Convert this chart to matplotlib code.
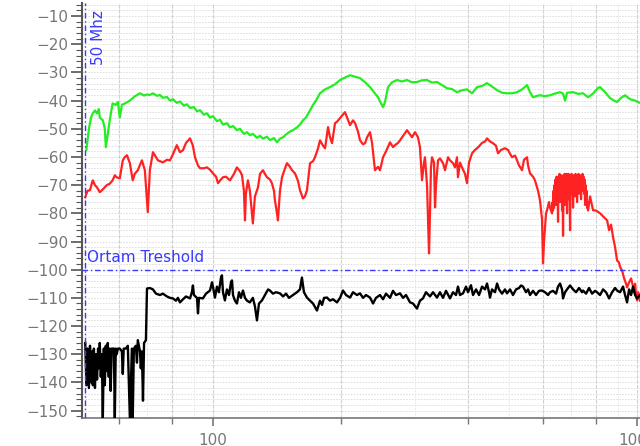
import numpy as np
import matplotlib
matplotlib.use("Agg")
import matplotlib.pyplot as plt
from matplotlib.ticker import FixedLocator, NullFormatter, MultipleLocator

# frequency (MHz) and level (dB)
green_f = [50.3, 51.0, 51.6, 52.1, 52.7, 53.3, 53.8, 54.1, 55.0, 55.6, 55.9, 56.5, 57.1, 58.0, 59.0, 59.7,
           60.3, 61.0, 62.0, 63.7, 65.4, 67.3, 68.8, 69.9, 71.0, 72.2, 73.8, 75.0, 76.2, 77.9, 79.2, 80.5,
           82.2, 83.6, 85.4, 86.8, 88.3, 90.2, 91.7, 93.2, 95.2, 96.8, 98.4, 100, 102.2, 103.9, 105.6, 107.9,
           109.7, 111.5, 113.9, 115.8, 118.3, 120.3, 122.2, 124.2, 127.0, 129.1, 131.2, 134.1, 136.3, 139.3,
           141.6, 143.9, 146.3, 148.7, 151.9, 154.4, 157.8, 160.4, 163.0, 165.7, 169.4, 172.2, 175.0, 178.8,
           183.8, 188.8, 194.0, 199.4, 204.8, 210.5, 216.3, 222.2, 228.4, 234.6, 239.7, 245.0, 249.1, 251.8,
           254.5, 258.7, 264.4, 271.6, 279.1, 286.8, 294.7, 302.7, 311.1, 319.7, 328.5, 337.5, 346.8, 356.4,
           366.1, 376.2, 386.6, 397.2, 408.2, 419.5, 431.0, 442.8, 455.0, 467.6, 480.4, 493.6, 507.2, 521.2,
           535.5, 550.3, 559.2, 568.4, 580.8, 590.4, 606.7, 623.4, 640.6, 658.2, 669.0, 676.3, 683.7, 706.4,
           725.8, 745.8, 766.3, 787.4, 809.1, 817.9, 840.4, 863.6, 882.6, 897.0, 916.8, 936.9, 962.8, 989.3,
           1006, 1022]
green_db = [-57.6, -50, -46, -44.5, -43.5, -44.5, -43, -46, -47, -50, -56.5, -52, -47, -41, -41.5, -40.5,
            -46, -41.5, -41, -40, -38.5, -37.4, -38.2, -37.8, -38, -37.4, -38.3, -38.0, -39, -38.7, -40, -39.5,
            -40.8, -40.3, -41.8, -41.3, -42.6, -42.3, -43.8, -43.4, -45, -44.5, -46, -45.5, -47.3, -46.8, -48.5, -48,
            -49.5, -49, -50.5, -50, -51.8, -51.2, -52.3, -51.8, -53.2, -52.5, -53.5, -52.8, -54.0, -53.3,
            -54.8, -53.5, -53.0, -52.0, -51.0, -50.5, -49.5, -48.5, -47, -46, -43.5, -41.5, -40, -37.4,
            -36, -35.2, -34.2, -32.7, -31.8, -31, -31.5, -32, -33.5, -35.2, -37, -38.8, -41, -42.3,
            -40.5, -35.2, -33.5, -32.7, -33.2, -32.7, -33.5, -33.4, -32.8, -32.7, -33.6, -33.4, -34.5, -35.6,
            -35.9, -37, -36.3, -36, -37.4, -35.2, -34.8, -33.8, -35, -36.3, -37.2, -37.4, -37.4, -37,
            -36, -34.5, -37, -38.8, -38.3, -38.1, -38.4, -38.1, -37.5, -37, -37.5, -40, -37.2, -37,
            -37.6, -37.4, -38.8, -37.5, -35.5, -35.2, -37, -39.1, -40, -40.5, -39, -38.1, -39.5, -40,
            -40.5, -41]

red_f = [50.0, 50.6, 51.3, 51.9, 52.1, 52.7, 53.3, 54.1, 55.0, 56.2, 57.1, 58.0, 58.7, 59.3, 60.3, 61.3,
         62.0, 62.7, 63.7, 64.7, 65.4, 66.5, 68.0, 69.1, 69.5, 70.2, 70.6, 71.0, 72.2, 73.0, 74.2, 76.2,
         77.9, 79.2, 80.5, 82.2, 83.6, 85.0, 86.4, 88.3, 89.7, 90.7, 92.2, 93.2, 95.2, 96.8, 98.4, 100,
         101.7, 102.8, 104.4, 105.6, 107.3, 109.7, 112.1, 113.9, 115.8, 117.1, 118.3, 119.0, 119.6, 120.9,
         122.2, 124.2, 125.6, 127.7, 129.1, 131.2, 132.6, 134.1, 136.3, 137.7, 139.3, 140.0, 141.6, 142.3,
         143.9, 145.5, 147.9, 149.5, 151.9, 153.6, 156.1, 158.7, 160.4, 163.0, 164.8, 166.6, 169.4, 172.2,
         174.0, 176.9, 178.8, 181.8, 183.8, 186.8, 188.8, 190.9, 194.0, 196.1, 199.4, 202.6, 204.8, 207.1,
         210.5, 213.9, 216.3, 219.8, 222.2, 225.9, 228.4, 230.9, 234.6, 237.2, 241.0, 245.0, 247.7, 251.8,
         255.9, 261.5, 265.8, 268.7, 273.1, 276.1, 282.2, 286.8, 291.5, 294.7, 299.5, 304.4, 307.7, 311.1,
         314.5, 316.2, 319.7, 323.2, 324.9, 326.6, 328.5, 332.1, 333.9, 335.7, 339.4, 343.0, 348.7, 352.5,
         358.3, 362.2, 368.1, 372.1, 376.2, 378.2, 382.4, 386.6, 392.9, 397.2, 401.5, 408.2, 414.8, 421.7,
         431.0, 438.0, 442.8, 450.0, 457.3, 464.9, 470.0, 477.8, 488.2, 496.1, 507.2, 515.5, 521.2, 526.8,
         535.5, 541.3, 550.3, 553.3, 559.2, 568.4, 574.6, 584.0, 590.4, 596.8, 600.1, 603.4, 610.0, 613.3,
         620.0, 623.4,
         630.2, 631.9, 633.6, 635.3, 637.1, 638.8, 640.6, 642.3, 644.1, 645.8, 647.6, 649.3, 651.1, 652.9,
         654.7, 656.4, 658.2, 660.0, 661.8, 663.6, 665.4, 667.2, 669.0, 670.8, 672.6, 674.4, 676.3, 678.1,
         680.0, 681.8, 683.7, 685.5, 687.4, 689.3, 691.2, 693.1, 695.0, 696.9, 698.8, 700.7, 702.6, 704.5,
         706.4, 708.3, 710.3, 712.2, 714.1, 716.0, 718.0, 720.0, 722.0, 723.9, 725.8, 727.8, 729.8, 731.7,
         733.7, 735.7, 737.7, 739.7, 741.7, 743.7, 745.8, 747.8, 749.8, 751.9, 754.0, 756.0, 758.1, 760.1,
         762.2, 764.2, 766.3,
         774.7, 787.4, 800.3, 817.9,
         835.8, 849.8, 859.0, 868.3, 877.8, 887.4, 897.0, 906.8, 911.8, 921.8, 931.8, 942.0, 947.1, 957.5,
         967.9, 978.5, 983.9, 989.3, 994.7, 1000, 1006, 1016]
red_db = [-74.3, -72, -71.8, -69, -68.3, -70, -70.8, -72.5, -71.5, -70, -69.5, -68.3, -66.5, -67.2, -67.6, -61.2,
          -60, -59.4, -62.2, -68.3, -66, -64.7, -61.2, -64.7, -70, -79.6, -72, -64.7, -58.3, -59.5, -61.2, -61.9,
          -61, -61.2, -59, -55.8, -58.3, -57.6, -55, -53.4, -56, -60.1, -63, -64, -64, -63.7, -64.5, -65.8,
          -67, -69.3, -68, -67.2, -67, -68.3, -66, -63.7, -65, -66.5, -72, -82.5, -73, -68.3,
          -72, -83.6, -74, -70.8, -66, -64.7, -66, -67.2, -68, -69.3, -72, -75.4, -80, -82.5,
          -72, -67.2, -64, -62.2, -63.5, -64.7, -65.8, -68.5, -71.8, -74.7, -74, -71.8, -62.2, -61.5,
          -60.1, -57, -54.1, -56, -56.9, -49.4, -53, -55.1, -48, -47.5, -46.2, -45, -44.1, -46,
          -48.7, -47, -48, -51, -54.1, -55.5, -55.1, -53, -51.2, -55, -64.7, -63.5, -64.7, -60.1,
          -58, -54.8, -56.5, -55.8, -55, -54.1, -52, -50.5, -52, -53, -51.2, -53, -56.6, -68.3,
          -62, -60.1, -70, -94.2, -80, -64, -60.1, -62, -77.9, -70, -61.2, -60.5, -62.2, -64.7,
          -60.1, -61.2, -62.2, -63.7, -60.1, -67.2, -62, -63.7, -66, -69.3, -62, -58.7, -57.5, -56.6,
          -55, -54.5, -53.4, -54.5, -55.1, -56, -58.7, -57.5, -56.9, -57.5, -60.1, -59.5, -61.2, -63,
          -64.7, -61, -60.1, -63, -65.8, -67, -68.3, -72, -75.4, -82, -97.8, -90, -80, -78.9,
          -76, -78,
          -80, -76, -79, -72, -78, -70, -75, -68, -77, -67, -74, -68, -83, -67,
          -72, -66, -76, -67.5, -70, -66.5, -79, -68, -88, -70, -73, -66, -77, -67,
          -71, -66, -80, -67, -72, -66, -75, -70, -86, -68, -73, -66, -70, -67,
          -78, -66.5, -72, -67, -74, -66, -71, -67, -76, -68, -71, -66, -73, -67,
          -70, -66.5, -75, -67, -72, -66, -70, -67, -73, -68, -77, -70, -74, -72,
          -78, -76, -79,
          -74, -78.9, -79, -80,
          -81.4, -82.5, -86, -84, -88.5, -92, -96.7, -97.5, -99, -100.3, -103, -105, -106.3, -104.5,
          -103.1, -106, -108, -105, -109, -110.9, -108, -111]

black_f = [50.0, 50.3, 50.6, 51.0, 51.3, 51.6, 51.9, 52.1, 52.4, 52.7, 53.0, 53.3, 53.6, 53.8, 54.1, 54.4,
           54.7, 55.0, 55.3, 55.6, 55.9, 56.2, 56.5, 56.8, 57.1, 57.4, 57.7, 58.4, 58.7, 59.0, 59.3, 59.7,
           60.3, 61.0, 61.3, 61.6, 62.3, 63.0, 63.7, 64.4, 64.7, 65.1, 65.8, 66.2, 66.5, 67.3, 67.6, 68.0,
           68.4, 68.8, 69.5, 69.9, 71.0, 72.2, 73.4, 75.0, 76.2, 77.9, 79.2, 80.5, 81.8, 82.7, 83.6, 85.0,
           86.4, 88.3, 89.2, 89.7, 90.2, 91.7, 92.2, 92.7, 94.7, 96.3, 98.4, 99.5, 100, 101.1, 102.2, 103.3,
           104.4, 105.0, 105.6, 106.7, 107.9, 109.1, 110.3, 110.9, 111.5, 112.7, 113.9, 115.2, 116.4, 117.7,
           119.0, 120.3, 122.2, 124.2, 125.6, 127.0, 128.4, 130.5, 132.6, 134.9, 136.3, 138.5, 140.8, 143.9,
           146.3, 148.7, 151.1, 154.4, 157.8, 160.4, 162.1, 163.9, 166.6, 169.4, 172.2, 175.9, 178.8, 180.8,
           182.8, 185.8, 188.8, 191.9, 196.1, 199.4, 202.6, 206.0, 210.5, 213.9, 218.6, 222.2, 225.9, 229.6,
           234.6, 238.5, 242.3, 247.7, 251.8, 255.9, 261.5, 265.8, 270.2, 276.1, 280.7, 285.3, 291.5, 296.3,
           302.7, 307.7, 312.7, 317.9, 324.9, 330.3, 337.5, 343.0, 348.7, 354.4, 362.2, 368.1, 374.2, 378.2,
           382.4, 388.7, 395.1, 399.4, 405.9, 410.4, 417.2, 424.0, 431.0, 438.0, 442.8, 447.6, 450.0, 455.0,
           462.4, 467.6, 472.6, 480.4, 488.2, 493.6, 501.7, 509.9, 518.3, 526.8, 532.6, 538.4, 547.2, 553.3,
           559.2, 568.4, 577.7, 587.2, 596.8, 606.7, 616.7, 623.4, 633.6, 644.1, 651.1, 658.2, 665.4, 669.0,
           676.3, 687.4, 695.0, 706.4, 718.0, 729.8, 741.7, 745.8, 758.1, 770.5, 783.2, 796.0, 804.7, 817.9,
           831.3, 845.0, 859.0, 873.0, 887.4, 897.0, 911.8, 926.8, 936.9, 947.1, 957.5, 967.9, 978.5, 989.3,
           1000, 1016]
black_db = [-126, -141, -128, -142, -127, -140, -129, -141, -128, -142, -130, -139, -128, -135, -126, -138,
            -130, -153, -128, -141, -127, -136, -126, -138, -128, -143, -128, -128, -153, -128, -130, -128,
            -128, -129, -137, -128, -128, -127, -153, -128, -153, -128, -127, -133, -125, -129, -135, -129,
            -146.5, -126, -125, -106.7, -106.5, -107, -108.5, -109, -108.5, -109.5, -110, -110.2, -111, -110, -111.6, -110.5,
            -109.5, -110.2, -108, -105.6, -109, -110, -115.5, -110, -110.2, -108.5, -107.4, -104.5, -106, -109.9, -106, -108,
            -103, -102, -108, -110.9, -107, -109, -104.5, -103.8, -109, -111, -112, -108, -110, -107.4,
            -110, -111, -111.6, -110, -113, -118, -112, -110.9, -109, -107, -107.4, -108.5, -108, -108.4,
            -109.5, -108.5, -110, -109, -108, -107, -102.8, -108, -109.9, -111, -112, -114.5, -111, -112.5,
            -110, -109.9, -111, -110.5, -111.6, -110, -107.4, -109, -109.9, -108, -109, -108.4, -110, -109,
            -109.9, -112, -110, -109, -110.5, -108.5, -110, -107.5, -109, -108.4, -110, -109, -111.6, -112,
            -113.8, -111, -110.2, -108, -109.5, -108, -109.9, -108, -110, -107.5, -110.2, -108, -109, -106,
            -109, -108.4, -106, -108, -105.5, -109, -107, -109, -106, -107, -104.9, -108, -109.9, -107,
            -108, -104.9, -107, -108.5, -107, -108.4, -107, -109, -107, -106.5, -105.6, -106, -108, -107,
            -109, -107.5, -109, -107.5, -107.4, -108, -109, -108, -107.5, -108.5, -106, -104.9, -107, -110.2,
            -108, -106.5, -105.6, -107, -108, -106.5, -108, -107.4, -108.5, -106.5, -108.5, -107.5, -108, -109,
            -107, -108, -110.2, -108, -106.5, -107.4, -108, -106, -109, -111.6, -107, -109, -106, -109,
            -110.2, -109]

yticks = list(range(-150, 0, 10))
xticks_major = [100, 1000]
xticks_minor = [60, 80, 200, 400, 600, 800]

fig = plt.figure(figsize=(6.4, 4.46), dpi=100)
ax = fig.add_axes([0.128, 0.063, 0.872, 0.930])

ax.set_xscale("log")
ax.set_xlim(49.1, 1016)
ax.set_ylim(-152.6, -5.4)

# grid
for v in range(-150, -5, 2):
    ax.axhline(v, color="#dadada", lw=0.6, ls=(0, (2, 1.5)), zorder=0)
grid_x = [50, 60, 70, 80, 90, 100, 200, 300, 400, 500, 600, 700, 800, 900, 1000]
for v in grid_x:
    ax.axvline(v, color="#e2e2e2", lw=0.6, ls=(0, (2, 1.5)), zorder=0)
for v in [60, 80, 100, 200, 400, 600, 800, 1000]:
    ax.axvline(v, color="#cfcfcf", lw=0.8, ls=(0, (3, 1.5)), zorder=0)

ax.plot(green_f, green_db, color="#22ee22", lw=1.6, zorder=3)
ax.plot(red_f, red_db, color="#ff2222", lw=1.6, zorder=3)
ax.plot(black_f, black_db, color="black", lw=1.7, zorder=4)

# markers
ax.axvline(50, color="#3a3aff", lw=1, ls=(0, (4, 2, 1, 2)), zorder=5)
ax.axhline(-100, color="#3a3aff", lw=1, ls=(0, (4, 2, 1, 2)), zorder=5)
ax.text(51.5, -8, "50 Mhz", rotation=90, color="#3a3aff", fontsize=11, va="top", ha="left")
ax.text(50.6, -98.3, "Ortam Treshold", color="#3a3aff", fontsize=11, va="bottom", ha="left")

ax.yaxis.set_major_locator(FixedLocator(yticks))
ax.yaxis.set_minor_locator(MultipleLocator(2))
ax.xaxis.set_major_locator(FixedLocator(xticks_major))
ax.xaxis.set_minor_locator(FixedLocator(xticks_minor))
ax.xaxis.set_minor_formatter(NullFormatter())
ax.set_xticklabels(["100", "1000"])

ax.tick_params(axis="y", which="major", labelsize=11, labelcolor="#777777", color="#555555", length=8, width=1.2, pad=2)
ax.tick_params(axis="y", which="minor", color="#555555", length=4, width=0.8)
ax.tick_params(axis="x", which="major", labelsize=11, labelcolor="#777777", color="#777777", length=6, width=1.2, pad=5)
ax.tick_params(axis="x", which="minor", color="#777777", length=4, width=1.0)

for s in ["top", "right"]:
    ax.spines[s].set_visible(False)
ax.spines["left"].set_color("#555555")
ax.spines["left"].set_linewidth(1.5)
ax.spines["bottom"].set_color("#777777")
ax.spines["bottom"].set_linewidth(1.2)

fig.savefig("out.png", dpi=100)
